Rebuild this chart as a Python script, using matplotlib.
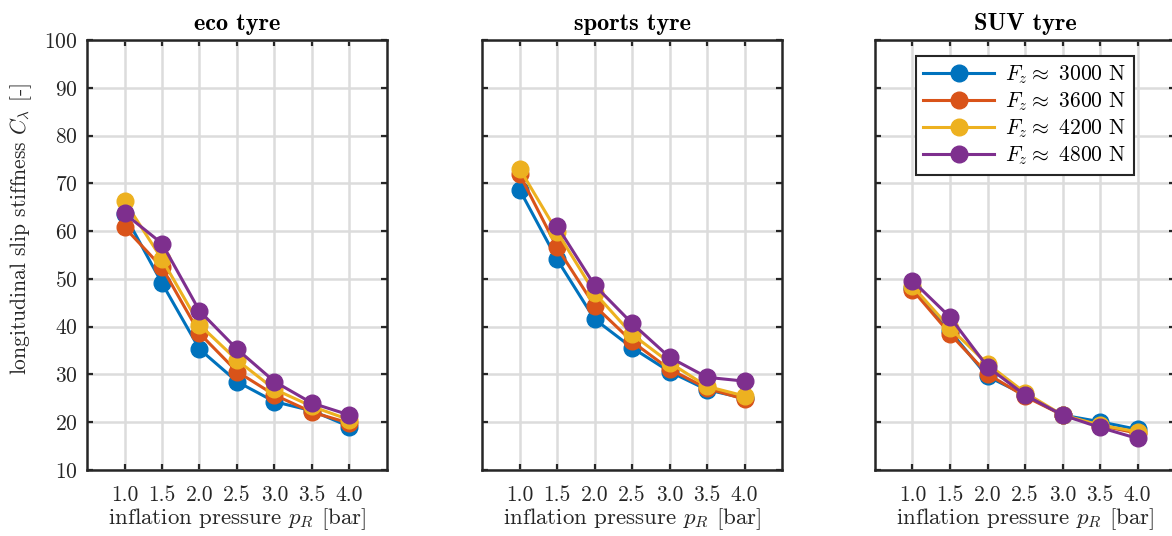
import numpy as np
import matplotlib
matplotlib.use("Agg")
import matplotlib.pyplot as plt

plt.rcParams['font.family'] = 'serif'
plt.rcParams['font.serif'] = ['cmr10']
plt.rcParams['mathtext.fontset'] = 'cm'
plt.rcParams['axes.formatter.use_mathtext'] = True

pressure = [1.0, 1.5, 2.0, 2.5, 3.0, 3.5, 4.0]
titles = ["eco tyre", "sports tyre", "SUV tyre"]
labels = [r"$F_z \approx$ 3000 N", r"$F_z \approx$ 3600 N",
          r"$F_z \approx$ 4200 N", r"$F_z \approx$ 4800 N"]
colors = ["#0072BD", "#D95319", "#EDB120", "#7E2F8E"]

eco_3000 = [63.5, 49.1, 35.3, 28.5, 24.3, 22.4, 19.1]
eco_3600 = [60.8, 52.4, 38.6, 30.6, 25.7, 22.1, 19.8]
eco_4200 = [66.3, 54.1, 40.4, 33.0, 26.9, 23.3, 20.5]
eco_4800 = [63.7, 57.4, 43.3, 35.3, 28.5, 24.0, 21.5]

sports_3000 = [68.7, 54.1, 41.6, 35.6, 30.6, 26.8, 25.0]
sports_3600 = [71.9, 56.6, 44.4, 36.9, 31.1, 27.1, 24.8]
sports_4200 = [73.1, 59.9, 47.1, 38.4, 32.5, 27.5, 25.5]
sports_4800 = [np.nan, 61.1, 48.7, 40.7, 33.6, 29.4, 28.6]

suv_3000 = [48.0, 39.1, 29.6, 25.7, 21.5, 20.1, 18.5]
suv_3600 = [47.7, 38.5, 30.1, 25.4, 21.5, 19.3, 17.7]
suv_4200 = [48.5, 39.7, 32.2, 26.2, 21.5, 19.4, 18.0]
suv_4800 = [49.6, 42.0, 31.6, 25.7, 21.5, 18.9, 16.6]

data = [
    [eco_3000, eco_3600, eco_4200, eco_4800],
    [sports_3000, sports_3600, sports_4200, sports_4800],
    [suv_3000, suv_3600, suv_4200, suv_4800],
]

W, H = 1172, 536
fig = plt.figure(figsize=(W / 100, H / 100), dpi=100)
lefts = [87, 482, 875]
axes = []
for i, lp in enumerate(lefts):
    ax = fig.add_axes([lp / W, 66 / H, 300 / W, 430 / H])
    axes.append(ax)
    for j, series in enumerate(data[i]):
        ax.plot(pressure, series, '-o', color=colors[j], lw=2.2, ms=12,
                label=labels[j], zorder=3)
    ax.set_xlim(0.5, 4.5)
    ax.set_ylim(10, 100)
    ax.set_xticks(pressure)
    ax.set_xticklabels([f"{p:.1f}" for p in pressure])
    ax.set_yticks(np.arange(10, 101, 10))
    ax.grid(True, color='#dcdcdc', lw=1.8, zorder=0)
    ax.set_axisbelow(True)
    ax.tick_params(direction='in', top=True, right=True, length=4, width=1.6,
                   color='#262626', labelsize=15.5, labelcolor='#262626')
    ax.tick_params(axis='x', pad=11)
    ax.tick_params(axis='y', pad=7)
    for s in ax.spines.values():
        s.set_linewidth(1.8)
        s.set_color('#262626')
    ax.set_title(titles[i], fontsize=17.5, fontweight='bold', fontfamily='cmb10',
                 pad=7)
    ax.set_xlabel(r"inflation pressure $p_R$ [bar]", fontsize=16.5,
                  color='#262626', labelpad=1)
    if i == 0:
        ax.set_ylabel(r"longitudinal slip stiffness $C_\lambda$ [-]",
                      fontsize=15.5, color='#262626')
        ax.yaxis.set_label_coords(-0.175, 0.56)
    else:
        ax.tick_params(labelleft=False)

leg = axes[2].legend(loc='upper right', bbox_to_anchor=(1134 / W, 1 - 56 / H),
                     bbox_transform=fig.transFigure, fontsize=15.5, frameon=True,
                     fancybox=False, edgecolor='#262626', framealpha=1,
                     handlelength=3.3, borderpad=0.35, labelspacing=0.2,
                     handletextpad=0.5, borderaxespad=0)
leg.get_frame().set_linewidth(1.5)

fig.savefig("out.png", dpi=100)
